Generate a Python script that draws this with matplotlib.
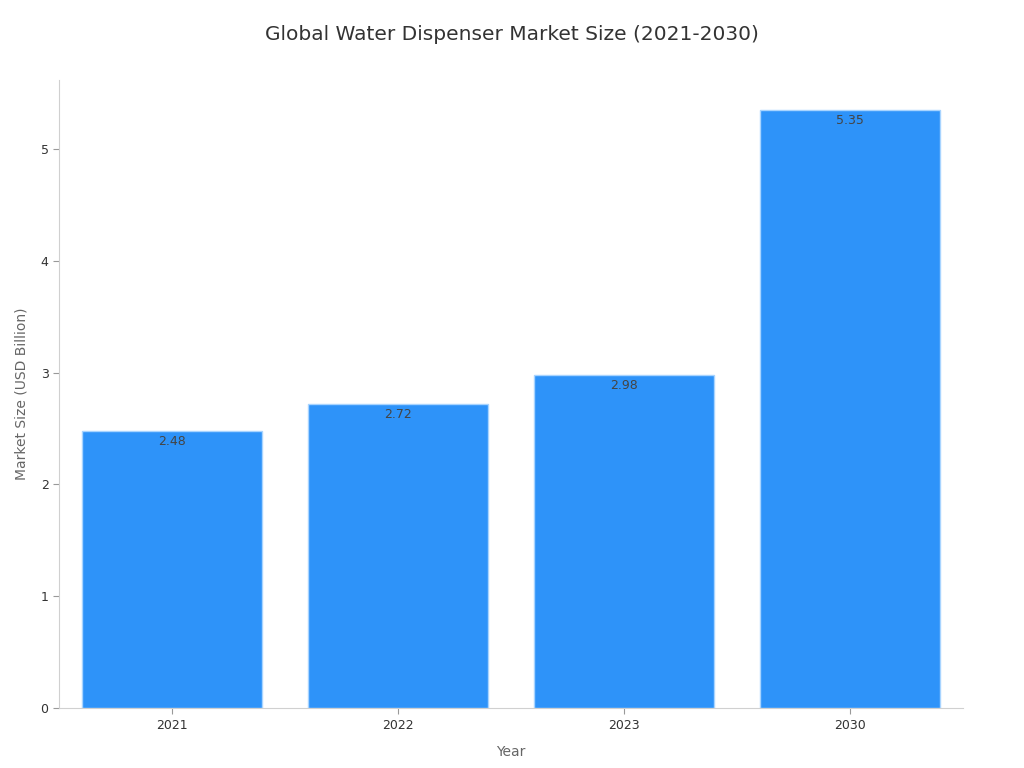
import matplotlib
matplotlib.use("Agg")
import matplotlib.pyplot as plt

years = ["2021", "2022", "2023", "2030"]
market_size = [2.48, 2.72, 2.98, 5.35]

fig = plt.figure(figsize=(10.24, 7.68), dpi=100)
ax = fig.add_axes([0.0576, 0.078, 0.8828, 0.818])

x = range(len(years))
ax.bar(x, market_size, width=0.8, color="#2E93F9", edgecolor="#A8D4FF", linewidth=1)
for i, v in zip(x, market_size):
    ax.text(i, v - 0.04, f"{v:.2f}", ha="center", va="top", fontsize=9, color="#444444")

ax.set_xlim(-0.5, 3.5)
ax.set_ylim(0, max(market_size) * 1.05)
ax.set_xticks(list(x))
ax.set_xticklabels(years)
ax.set_yticks([0, 1, 2, 3, 4, 5])

for s in ["top", "right"]:
    ax.spines[s].set_visible(False)
for s in ["left", "bottom"]:
    ax.spines[s].set_color("#d0d0d0")
ax.tick_params(axis="both", labelsize=9, colors="#333333", color="#999999", length=4)

ax.set_xlabel("Year", fontsize=10, color="#666666", labelpad=10)
ax.set_ylabel("Market Size (USD Billion)", fontsize=10, color="#666666", labelpad=9)
fig.suptitle("Global Water Dispenser Market Size (2021-2030)", fontsize=14.5, color="#333333", y=0.968)

fig.savefig("out.png", dpi=100)
